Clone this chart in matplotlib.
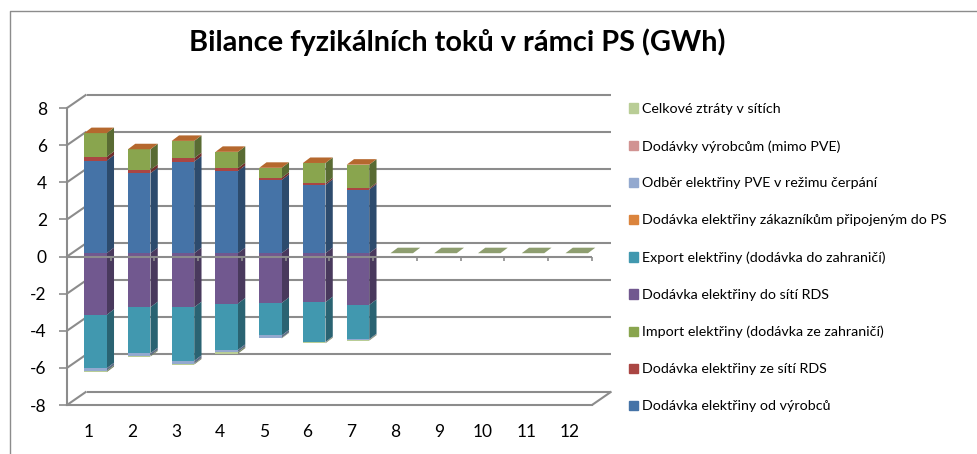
import matplotlib
matplotlib.use('Agg')
import matplotlib.pyplot as plt
import matplotlib.patches as mpatches
from matplotlib.patches import Polygon
from matplotlib.colors import to_rgb
from matplotlib.lines import Line2D
import numpy as np

plt.rcParams['font.family'] = ['Lato', 'DejaVu Sans']
plt.rcParams['axes.unicode_minus'] = False

months = [1, 2, 3, 4, 5, 6, 7, 8, 9, 10, 11, 12]
title = 'Bilance fyzikálních toků v rámci PS (GWh)'

# kladna strana
vyrobci = [4.99, 4.31, 4.94, 4.43, 3.95, 3.68, 3.43, 0, 0, 0, 0, 0]
ze_rds = [0.20, 0.18, 0.18, 0.15, 0.12, 0.09, 0.07, 0, 0, 0, 0, 0]
import_el = [1.28, 1.11, 0.93, 0.88, 0.53, 1.09, 1.27, 0, 0, 0, 0, 0]
# zaporna strana
do_rds = [-3.32, -2.91, -2.91, -2.71, -2.68, -2.64, -2.79, 0, 0, 0, 0, 0]
export_el = [-2.88, -2.48, -2.89, -2.50, -1.75, -2.14, -1.84, 0, 0, 0, 0, 0]
zakaznici = [0, 0, 0, 0, 0, 0, 0, 0, 0, 0, 0, 0]
odber_pve = [-0.14, -0.13, -0.15, -0.12, -0.13, -0.03, -0.04, 0, 0, 0, 0, 0]
vyrobcum = [0, 0, 0, 0, 0, 0, 0, 0, 0, 0, 0, 0]
ztraty = [-0.07, -0.05, -0.05, -0.08, -0.03, -0.04, -0.04, 0, 0, 0, 0, 0]

legend_labels = ['Celkové ztráty v sítích', 'Dodávky výrobcům (mimo PVE)',
                 'Odběr elektřiny PVE v režimu čerpání',
                 'Dodávka elektřiny zákazníkům připojeným do PS',
                 'Export elektřiny (dodávka do zahraničí)',
                 'Dodávka elektřiny do sítí RDS',
                 'Import elektřiny (dodávka ze zahraničí)',
                 'Dodávka elektřiny ze sítí RDS',
                 'Dodávka elektřiny od výrobců']
legend_colors = ['#B9CD96', '#D19392', '#93A9CF', '#DB843D', '#4198AF',
                 '#71588F', '#89A54E', '#AA4643', '#4573A7']

W, H = 978, 454
GRAY = '#8c8c8c'

fig = plt.figure(figsize=(W / 100, H / 100), dpi=100)
ax = fig.add_axes([67 / W, (H - 405) / H, 525 / W, 297 / H])
ax.set_xlim(0.5, 12.5)
ax.set_ylim(-8, 8)

px_x = 12 / 525
px_y = 16 / 297
wall_dx, wall_dy = 19.5 * px_x, 13.5 * px_y
bar_dx, bar_dy = 6.6 * px_x, 3.3 * px_y
depth_x, depth_y = 7.3 * px_x, 5.5 * px_y
bar_w = 22.5 * px_x


def darker(c, f=0.65):
    return tuple(v * f for v in to_rgb(c))


def add_line(xs, ys, z=1, lw=1.5):
    ax.add_line(Line2D(xs, ys, color=GRAY, lw=lw, zorder=z, clip_on=False,
                       solid_capstyle='butt'))


# steny grafu
yticks = np.arange(-8, 9, 2)
for y in yticks:
    add_line([0.5 + wall_dx, 12.5 + wall_dx], [y + wall_dy, y + wall_dy])
    add_line([0.5, 0.5 + wall_dx], [y, y + wall_dy])
add_line([12.5, 12.5 + wall_dx], [-8, -8 + wall_dy])


def draw_stack(series, colors, z):
    base = np.zeros(len(months))
    x = np.array(months) + bar_dx
    for vals, col in zip(series, colors):
        vals = np.array(vals, dtype=float)
        ax.bar(x, vals, bar_w, bottom=base + bar_dy, color=col, zorder=z + 1,
               linewidth=0, clip_on=False)
        for xi, b, v in zip(x, base, vals):
            if v == 0:
                continue
            r = xi + bar_w / 2
            side = [(r, b + bar_dy), (r + depth_x, b + bar_dy + depth_y),
                    (r + depth_x, b + v + bar_dy + depth_y), (r, b + v + bar_dy)]
            ax.add_patch(Polygon(side, facecolor=darker(col), edgecolor='none',
                                 zorder=z, clip_on=False))
        base = base + vals
    return x, base


pos = draw_stack([vyrobci, ze_rds, import_el], ['#4573A7', '#AA4643', '#89A54E'], 3)
neg = draw_stack([do_rds, export_el, zakaznici, odber_pve, vyrobcum, ztraty],
                 ['#71588F', '#4198AF', '#DB843D', '#93A9CF', '#D19392', '#B9CD96'], 5)

# horni plosky sloupcu
for xi, t in zip(pos[0], pos[1]):
    l = xi - bar_w / 2
    y0 = t + bar_dy
    col = '#B5682E' if t > 0 else '#8E9E70'
    top = [(l, y0), (l + bar_w, y0), (l + bar_w + depth_x, y0 + depth_y), (l + depth_x, y0 + depth_y)]
    ax.add_patch(Polygon(top, facecolor=col, edgecolor='none', zorder=8, clip_on=False))

# osy
for s in ['top', 'right']:
    ax.spines[s].set_visible(False)
for s in ['left', 'bottom']:
    ax.spines[s].set_color(GRAY)
    ax.spines[s].set_linewidth(1.5)
ax.set_yticks(yticks)
ax.set_xticks(months)
ax.set_xticklabels([str(m) for m in months])
ax.tick_params(axis='y', length=5.5, width=1.2, color=GRAY, labelsize=12.5, pad=9, labelcolor='black')
ax.tick_params(axis='x', length=0, labelsize=12.5, pad=14, labelcolor='black')
ax.set_axisbelow(True)

add_line([0.5, 12.5], [0, 0], z=9)
for k in months:
    add_line([k + 0.5, k + 0.5], [0, -4.5 * px_y], z=9, lw=1.2)

ax.patch.set_visible(False)

handles = [mpatches.Patch(color=c, label=l) for c, l in zip(legend_colors, legend_labels)]
fig.legend(handles=handles, loc='upper left', bbox_to_anchor=(629 / W, 1 - 103 / H),
           frameon=False, fontsize=10.3, labelspacing=1.745, handlelength=0.65,
           handleheight=0.65, handletextpad=0.25, borderpad=0, borderaxespad=0)

fig.text(457.5 / W, 1 - 42 / H, title, ha='center', va='center', fontsize=20.75, fontweight='bold')

# ramecek grafu
fig.add_artist(Line2D([9.5 / W, 9.5 / W, 1], [0, 1 - 10.5 / H, 1 - 10.5 / H],
                      color='#8c8c8c', lw=1.0, transform=fig.transFigure))

fig.savefig('out.png', dpi=100)
